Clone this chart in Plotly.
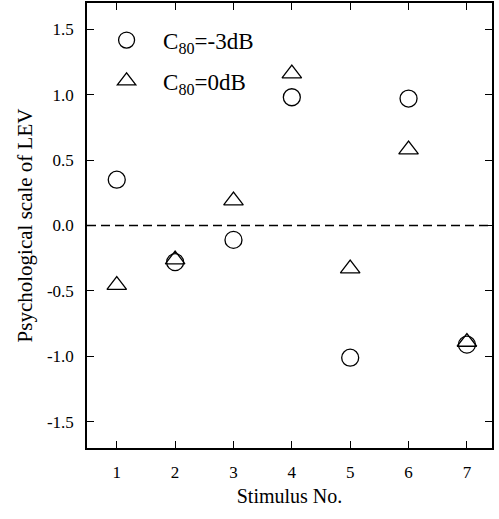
import plotly.graph_objects as go

stimulus = [1, 2, 3, 4, 5, 6, 7]
c80_m3 = [0.35, -0.28, -0.11, 0.98, -1.01, 0.97, -0.91]
c80_0 = [-0.455, -0.26, 0.19, 1.16, -0.33, 0.58, -0.89]
y_tickvals = [-1.5, -1.0, -0.5, 0.0, 0.5, 1.0, 1.5]
y_ticktext = ["-1.5", "-1.0", "-0.5", "0.0", "0.5", "1.0", "1.5"]
x_tickvals = [1, 2, 3, 4, 5, 6, 7]
x_ticktext = ["1", "2", "3", "4", "5", "6", "7"]

FONT = "Liberation Serif"

fig = go.Figure()
fig.add_trace(go.Scatter(
    x=stimulus, y=c80_m3, mode="markers", name="C<sub>80</sub>=-3dB",
    legendgroup="a",
    marker=dict(symbol="circle-open", size=17, color="black", line=dict(width=1.3, color="black")),
))
fig.add_trace(go.Scatter(
    x=stimulus, y=c80_0, mode="markers", name="C<sub>80</sub>=0dB",
    legendgroup="b",
    marker=dict(symbol="triangle-up-open", size=17, color="black", line=dict(width=1.3, color="black")),
))

fig.add_shape(type="line", xref="paper", yref="y", x0=0, x1=1, y0=0, y1=0,
              line=dict(color="black", width=1.3, dash="9px,5px"))

axis_common = dict(
    showline=True, linecolor="black", linewidth=1.5, mirror="ticks",
    ticks="inside", ticklen=7, tickwidth=1.3, tickcolor="black",
    showgrid=False, zeroline=False, automargin=False,
    tickfont=dict(family=FONT, size=17, color="black"),
)

fig.update_layout(
    width=499, height=519,
    margin=dict(l=87, r=7, t=3, b=71),
    paper_bgcolor="white", plot_bgcolor="white",
    font=dict(family=FONT, color="black"),
    showlegend=True,
    legend=dict(
        x=0.0076, y=0.965, xanchor="left", yanchor="top",
        bgcolor="rgba(0,0,0,0)", borderwidth=0,
        font=dict(family=FONT, size=23, color="black"),
        itemsizing="trace", itemwidth=63, tracegroupgap=8,
    ),
    xaxis=dict(
        range=[0.49, 7.43], tickvals=x_tickvals, ticktext=x_ticktext,
        ticklabelstandoff=8,
        title=dict(text="Stimulus No.", font=dict(family=FONT, size=20, color="black"), standoff=8),
        **axis_common,
    ),
    yaxis=dict(
        range=[-1.7, 1.7], tickvals=y_tickvals, ticktext=y_ticktext,
        ticklabelstandoff=8,
        title=dict(text="Psychological scale of LEV", font=dict(family=FONT, size=21, color="black"), standoff=9),
        **axis_common,
    ),
)

fig.write_html("out.html", config={"displayModeBar": False},
               post_script="document.body.style.margin='0';")
